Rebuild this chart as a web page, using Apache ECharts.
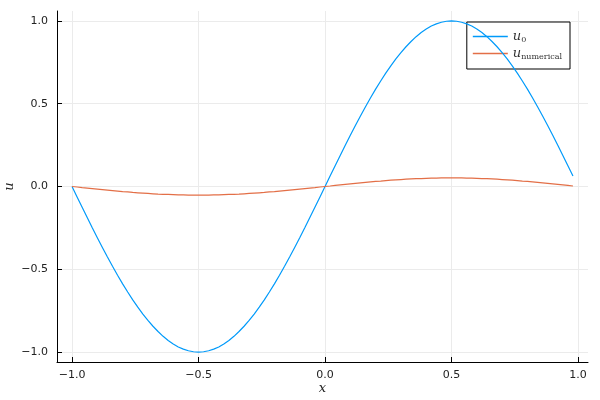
<!DOCTYPE html>
<html>
<head>
<meta charset="utf-8">
<script src="https://cdn.jsdelivr.net/npm/echarts@6/dist/echarts.min.js"></script>
<style>html,body{margin:0;padding:0;background:#fff}#c{width:600px;height:400px}</style>
</head>
<body>
<div id="c"></div>
<script>
const xs = [-1.00,-0.98,-0.96,-0.94,-0.92,-0.90,-0.88,-0.86,-0.84,-0.82,-0.80,-0.78,-0.76,-0.74,-0.72,-0.70,-0.68,-0.66,-0.64,-0.62,-0.60,-0.58,-0.56,-0.54,-0.52,-0.50,-0.48,-0.46,-0.44,-0.42,-0.40,-0.38,-0.36,-0.34,-0.32,-0.30,-0.28,-0.26,-0.24,-0.22,-0.20,-0.18,-0.16,-0.14,-0.12,-0.10,-0.08,-0.06,-0.04,-0.02,
0.00,0.02,0.04,0.06,0.08,0.10,0.12,0.14,0.16,0.18,0.20,0.22,0.24,0.26,0.28,0.30,0.32,0.34,0.36,0.38,0.40,0.42,0.44,0.46,0.48,0.50,0.52,0.54,0.56,0.58,0.60,0.62,0.64,0.66,0.68,0.70,0.72,0.74,0.76,0.78,0.80,0.82,0.84,0.86,0.88,0.90,0.92,0.94,0.96,0.98];
const u0 = [0,-0.063,-0.125,-0.187,-0.249,-0.309,-0.368,-0.426,-0.482,-0.536,-0.588,-0.637,-0.685,-0.729,-0.771,-0.809,-0.844,-0.876,-0.905,-0.930,-0.951,-0.969,-0.982,-0.992,-0.998,-1.000,-0.998,-0.992,-0.982,-0.969,-0.951,-0.930,-0.905,-0.876,-0.844,-0.809,-0.771,-0.729,-0.685,-0.637,-0.588,-0.536,-0.482,-0.426,-0.368,-0.309,-0.249,-0.187,-0.125,-0.063,
0,0.063,0.125,0.187,0.249,0.309,0.368,0.426,0.482,0.536,0.588,0.637,0.685,0.729,0.771,0.809,0.844,0.876,0.905,0.930,0.951,0.969,0.982,0.992,0.998,1.000,0.998,0.992,0.982,0.969,0.951,0.930,0.905,0.876,0.844,0.809,0.771,0.729,0.685,0.637,0.588,0.536,0.482,0.426,0.368,0.309,0.249,0.187,0.125,0.063];
const uNum = [0,-0.003,-0.007,-0.010,-0.013,-0.016,-0.019,-0.022,-0.025,-0.028,-0.031,-0.033,-0.036,-0.038,-0.040,-0.042,-0.044,-0.046,-0.047,-0.048,-0.049,-0.050,-0.051,-0.052,-0.052,-0.052,-0.052,-0.052,-0.051,-0.050,-0.049,-0.048,-0.047,-0.046,-0.044,-0.042,-0.040,-0.038,-0.036,-0.033,-0.031,-0.028,-0.025,-0.022,-0.019,-0.016,-0.013,-0.010,-0.007,-0.003,
0,0.003,0.007,0.010,0.013,0.016,0.019,0.022,0.025,0.028,0.031,0.033,0.036,0.038,0.040,0.042,0.044,0.046,0.047,0.048,0.049,0.050,0.051,0.052,0.052,0.052,0.052,0.052,0.051,0.050,0.049,0.048,0.047,0.046,0.044,0.042,0.040,0.038,0.036,0.033,0.031,0.028,0.025,0.022,0.019,0.016,0.013,0.010,0.007,0.003];
const xTicks = [-1.0,-0.5,0.0,0.5,1.0];
const yTicks = [-1.0,-0.5,0.0,0.5,1.0];
const seriesNames = ['u0','unumerical'];
const seriesColors = ['#009AFA','#E36F47'];

const chart = echarts.init(document.getElementById('c'), null, {renderer:'canvas'});
const pairs = arr => xs.map((x,i)=>[x,arr[i]]);
const serif = 'DejaVu Serif';
const fmt = v=>(v<0?'\u2212':'')+Math.abs(v).toFixed(1);
const labelStyle = {fontFamily:'DejaVu Sans', fontSize:11, color:'#222'};
const gridLine = {color:'#ebebeb',width:1,type:'solid'};
chart.setOption({
  animation:false,
  backgroundColor:'#fff',
  color:seriesColors,
  grid:{left:57,right:12,top:11,bottom:38,containLabel:false,outerBoundsMode:'none'},
  xAxis:{type:'value',min:-1.0594,max:1.0394,
    name:'x',nameLocation:'middle',nameGap:20,nameMoveOverlap:false,
    nameTextStyle:{fontFamily:serif,fontStyle:'italic',fontSize:13,color:'#222'},
    axisLine:{onZero:false,lineStyle:{color:'#000',width:1}},
    axisTick:{show:true,inside:true,length:5,lineStyle:{color:'#000'},customValues:xTicks},
    axisLabel:Object.assign({margin:8,customValues:xTicks,formatter:fmt},labelStyle),
    splitLine:{show:false}
  },
  yAxis:{type:'value',min:-1.06,max:1.06,
    name:'u',nameLocation:'middle',nameGap:41,nameRotate:90,nameMoveOverlap:false,
    nameTextStyle:{fontFamily:serif,fontStyle:'italic',fontSize:13,color:'#222'},
    axisLine:{onZero:false,lineStyle:{color:'#000',width:1}},
    axisTick:{show:true,inside:true,length:5,lineStyle:{color:'#000'},customValues:yTicks},
    axisLabel:Object.assign({margin:9,customValues:yTicks,formatter:fmt},labelStyle),
    splitLine:{show:false}
  },
  legend:{
    right:30,top:22,orient:'vertical',
    backgroundColor:'#fff',borderColor:'#000',borderWidth:1,borderRadius:0,
    padding:[8,8,8,6],itemGap:3,itemWidth:35,itemHeight:1.5,
    data:seriesNames.map((n,i)=>({name:n,icon:'rect',itemStyle:{color:seriesColors[i],borderWidth:0}})),
    formatter:n=> n==='u0' ? '{i|u}{s|0}' : '{i|u}{s|numerical}',
    textStyle:{
      rich:{
        i:{fontFamily:serif,fontStyle:'italic',fontSize:13,color:'#333'},
        s:{fontFamily:serif,fontSize:8,color:'#333',padding:[7,0,0,0]}
      }
    }
  },
  series:[
    {name:'u0',type:'line',data:pairs(u0),showSymbol:false,symbol:'none',lineStyle:{color:seriesColors[0],width:1.2},itemStyle:{color:seriesColors[0]},z:5},
    {name:'unumerical',type:'line',data:pairs(uNum),showSymbol:false,symbol:'none',lineStyle:{color:seriesColors[1],width:1.2},itemStyle:{color:seriesColors[1]},z:5},
    {name:'gridlines',type:'line',data:[],silent:true,z:0,zlevel:0,
      markLine:{silent:true,symbol:'none',label:{show:false},lineStyle:gridLine,animation:false,z:0,
        data:xTicks.map(v=>({xAxis:v})).concat(yTicks.map(v=>({yAxis:v})))}}
  ]
});
</script>
</body>
</html>
